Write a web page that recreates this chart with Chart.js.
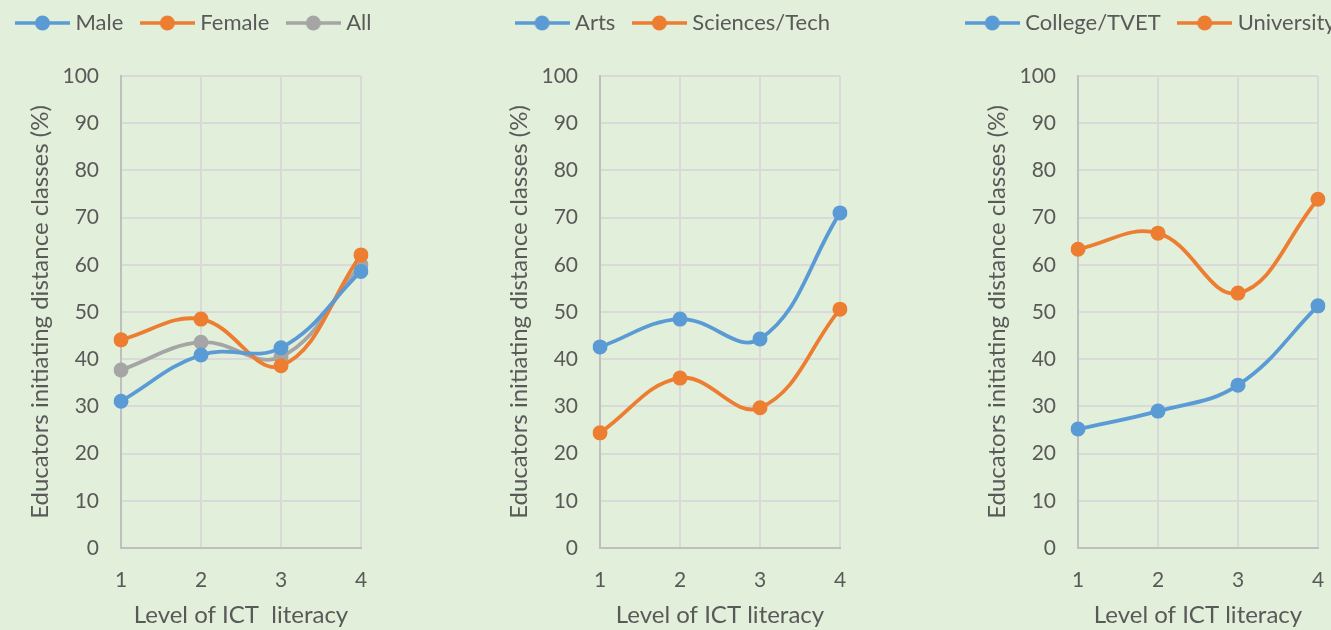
<!DOCTYPE html>
<html><head><meta charset="utf-8">
<script src="https://cdn.jsdelivr.net/npm/chart.js@4"></script>
<style>
html,body{margin:0;padding:0;background:#E2EFDA;width:1331px;height:630px;overflow:hidden;position:relative;}
.p{position:absolute;top:0;}
canvas{display:block;}
</style></head><body>
<div class="p" style="left:-14px"><canvas id="c1" width="420" height="630"></canvas></div>
<div class="p" style="left:465px"><canvas id="c2" width="420" height="630"></canvas></div>
<div class="p" style="left:943px"><canvas id="c3" width="420" height="630"></canvas></div>
<script>
// ---- data ----
const levels = ['1', '2', '3', '4'];
const yTitle = 'Educators initiating distance classes (%)';
const xTitle1 = 'Level of ICT  literacy';
const xTitle = 'Level of ICT literacy';

const male = [31.1, 40.9, 42.4, 58.6];
const female = [44.1, 48.5, 38.6, 62.1];
const allEd = [37.7, 43.6, 40.5, 60.0];

const arts = [42.6, 48.5, 44.3, 71.0];
const sciences = [24.4, 36.0, 29.7, 50.6];

const college = [25.2, 29.0, 34.5, 51.3];
const university = [63.3, 66.7, 54.0, 73.9];

// ---- styles ----
const BLUE = '#5B9BD5', ORANGE = '#ED7D31', GRAY = '#A5A5A5';
const TXT = '#595959';
const FONT = 'Lato';

function marker(color) {
  const c = document.createElement('canvas');
  c.width = 55; c.height = 20;
  const g = c.getContext('2d');
  g.strokeStyle = color; g.lineWidth = 3.5;
  g.beginPath(); g.moveTo(0, 10); g.lineTo(55, 10); g.stroke();
  g.fillStyle = color;
  g.beginPath(); g.arc(27.5, 10, 7.5, 0, Math.PI * 2); g.fill();
  return c;
}

function ds(label, data, color) {
  return {
    label, data, borderColor: color, backgroundColor: color,
    borderWidth: 3.8, pointRadius: 7.5, pointHoverRadius: 7.5,
    pointBackgroundColor: color, pointBorderWidth: 0,
    tension: 0.4, fill: false, _marker: marker(color)
  };
}

function make(id, datasets, xt) {
  new Chart(document.getElementById(id), {
    type: 'line',
    data: { labels: levels, datasets },
    options: {
      responsive: false, animation: false,
      layout: { padding: { left: 0, right: 0, top: -10, bottom: 0 } },
      plugins: {
        tooltip: { enabled: false },
        legend: {
          position: 'top',
          labels: {
            usePointStyle: true, pointStyleWidth: 44, padding: 22,
            color: TXT, font: { family: FONT, size: 22 },
            generateLabels(chart) {
              const items = Chart.defaults.plugins.legend.labels.generateLabels(chart);
              items.forEach((it, i) => { it.pointStyle = chart.data.datasets[i]._marker; });
              return items;
            }
          }
        }
      },
      scales: {
        x: {
          offset: false,
          grid: { color: '#D9D9D9', lineWidth: 2, drawTicks: false },
          border: { color: '#BFBFBF', width: 2 },
          ticks: { padding: 20, color: TXT, font: { family: FONT, size: 21 } },
          title: { display: true, text: xt, color: TXT, font: { family: FONT, size: 24 }, padding: { top: 14, bottom: 0 } },
          afterFit(s) { s.height = 82; }
        },
        xTop: {
          type: 'category', position: 'top', display: true,
          grid: { display: false }, ticks: { display: false }, border: { display: false },
          afterFit(s) { s.height = 32; }
        },
        y: {
          min: 0, max: 100,
          grid: { color: '#D9D9D9', lineWidth: 2, drawTicks: false },
          border: { color: '#BFBFBF', width: 2 },
          ticks: { stepSize: 10, padding: 22, color: TXT, font: { family: FONT, size: 21 } },
          title: { display: true, text: yTitle, color: TXT, font: { family: FONT, size: 24 }, padding: { top: 40, bottom: 4 } },
          afterFit(s) { s.width = 135; }
        },
        yRight: {
          type: 'linear', position: 'right', display: true,
          grid: { display: false }, ticks: { display: false }, border: { display: false },
          afterFit(s) { s.width = 45; }
        }
      }
    }
  });
}

make('c1', [ds('Male', male, BLUE), ds('Female', female, ORANGE), ds('All', allEd, GRAY)], xTitle1);
make('c2', [ds('Arts', arts, BLUE), ds('Sciences/Tech', sciences, ORANGE)], xTitle);
make('c3', [ds('College/TVET', college, BLUE), ds('University', university, ORANGE)], xTitle);
</script>
</body></html>
